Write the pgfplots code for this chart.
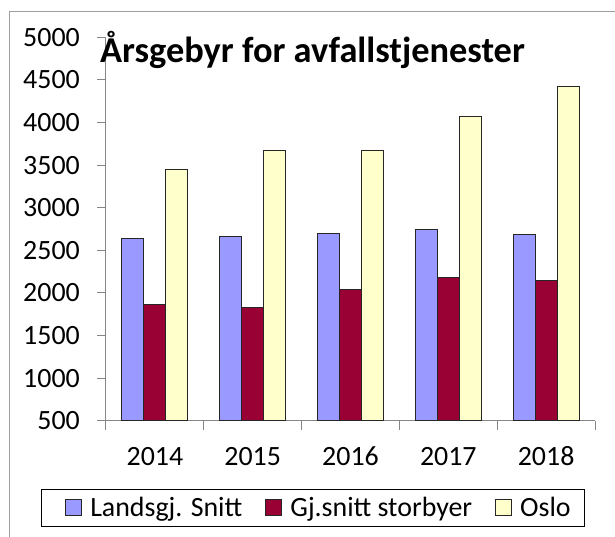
\documentclass[border=0pt]{standalone}
\usepackage{pgfplots}
\pgfplotsset{compat=1.18}
\usepackage{fontspec}
\setmainfont{Carlito}
\definecolor{cblue}{HTML}{9999FF}
\definecolor{cred}{HTML}{990033}
\definecolor{cyel}{HTML}{FFFFCC}
\definecolor{axgray}{HTML}{868686}
\definecolor{barline}{HTML}{262626}
\pgfplotsset{mylegend/.style={legend image code/.code={\path (0bp,0bp); \draw[##1,line width=1bp] (10bp,-8bp) rectangle (26bp,8bp);}}}
\begin{document}
\begin{tikzpicture}
\useasboundingbox (0,0) rectangle (615bp,537bp);
\fill[white] (0,0) rectangle (615bp,537bp);
\draw[axgray!80, line width=1bp] (9.3bp,-5bp) -- (9.3bp,525.3bp) -- (620bp,525.3bp);
\begin{axis}[
  at={(106bp,116.3bp)}, anchor=south west,
  scale only axis, width=489bp, height=383.4bp,
  xmin=0.5, xmax=5.5, ymin=500, ymax=5000,
  axis x line*=bottom, axis y line*=left,
  axis line style={axgray, line width=1bp},
  tick style={axgray, line width=1bp},
  tick align=outside,
  major tick length=9bp,
  minor tick length=9bp,
  xtick={1,...,5}, xticklabels={2014,2015,2016,2017,2018},
  major x tick style={draw=none},
  minor xtick={0.5,1.5,...,5.5},
  ytick={500,1000,...,5000},
  /pgf/number format/1000 sep={},
  /pgf/number format/assume math mode=true,
  tick label style={font=\fontsize{28}{33}\selectfont, text=black, inner sep=0pt},
  xticklabel style={anchor=north, yshift=-17bp},
  yticklabel style={anchor=east, xshift=-17bp},
  ybar=0pt, bar width=22bp,
  legend columns=3,
  legend style={at={(0.4233,-0.2273)}, anchor=center, draw=black, line width=1.2bp,
    inner xsep=14bp, inner ysep=8bp, font=\fontsize{28}{33}\selectfont,
    nodes={inner sep=0pt},
    /tikz/every even column/.append style={column sep=13bp},
    /tikz/every odd column/.append style={column sep=8bp}},
]
\addplot[fill=cblue, draw=barline, line width=1bp, mylegend] coordinates {(1,2642) (2,2660) (3,2696) (4,2747) (5,2680)};
\addplot[fill=cred, draw=barline, line width=1bp, mylegend] coordinates {(1,1869) (2,1829) (3,2040) (4,2180) (5,2150)};
\addplot[fill=cyel, draw=barline, line width=1bp, mylegend] coordinates {(1,3445) (2,3676) (3,3676) (4,4066) (5,4425)};
\legend{Landsgj. Snitt, Gj.snitt storbyer, Oslo}
\end{axis}
\node[anchor=base west, font=\bfseries\fontsize{36.5}{43}\selectfont, inner sep=0pt] at (100bp,474bp) {Årsgebyr for avfallstjenester};
\end{tikzpicture}
\end{document}
